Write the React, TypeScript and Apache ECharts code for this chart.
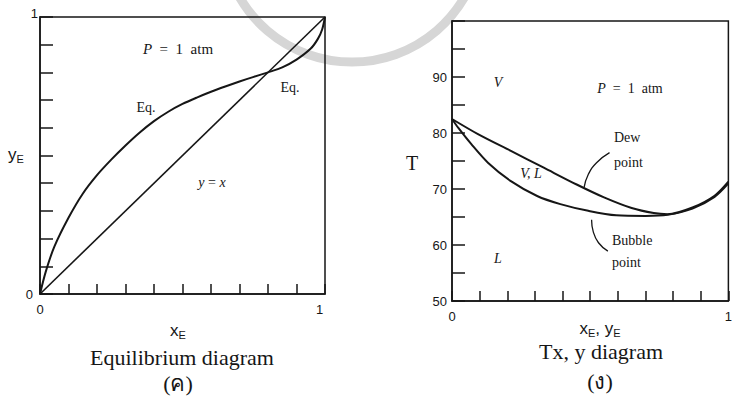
import React, { useEffect, useRef } from "react";
import * as echarts from "echarts";

// Equilibrium curve, y_E against x_E (P = 1 atm)
const eqX = [0, 0.02, 0.05, 0.1, 0.15, 0.2, 0.25, 0.3, 0.35, 0.4, 0.45, 0.5, 0.55, 0.6, 0.65, 0.7, 0.75, 0.8, 0.85, 0.9, 0.95, 0.975, 0.99, 1];
const eqY = [0, 0.08, 0.17, 0.275, 0.362, 0.429, 0.485, 0.536, 0.583, 0.624, 0.658, 0.686, 0.709, 0.73, 0.749, 0.767, 0.784, 0.8, 0.818, 0.846, 0.886, 0.921, 0.955, 1];

// Bubble-point (liquid) curve: T against x_E
const bubbleX = [0, 0.023, 0.07, 0.13, 0.213, 0.308, 0.392, 0.493, 0.594, 0.7, 0.78, 0.87, 0.95, 1];
const bubbleT = [82.5, 80.9, 78.0, 74.7, 71.4, 68.75, 67.3, 66.1, 65.3, 65.2, 65.4, 66.5, 68.6, 71.0];

// Dew-point (vapour) curve: T against y_E
const dewX = [0, 0.094, 0.213, 0.332, 0.451, 0.55, 0.65, 0.73, 0.78, 0.87, 0.95, 1];
const dewT = [82.5, 79.8, 76.8, 73.8, 70.8, 68.5, 66.6, 65.7, 65.5, 66.7, 68.8, 71.3];

// Callout leaders for the "Dew point" and "Bubble point" notes
const dewLeaderX = [0.57, 0.523, 0.493, 0.478];
const dewLeaderT = [76.5, 74.7, 72.6, 70.3];
const bubbleLeaderX = [0.505, 0.511, 0.53, 0.564];
const bubbleLeaderT = [64.5, 62.4, 60.4, 58.9];

// Tick labels
const fracLabels = ["0", "1"];
const tempLabels = [50, 60, 70, 80, 90];

const INK = "#161616";
const SERIF = "Liberation Serif";
const SANS = "Liberation Sans";

const pairs = (xs: number[], ys: number[]) => xs.map((x, i) => [x, ys[i]]);
const near = (a: number, b: number) => Math.abs(a - b) < 1e-6;

const fracFormatter = (axis: "x" | "y") => (v: number) => {
  if (near(v, 0)) return axis === "y" ? "{z|" + fracLabels[0] + "}" : fracLabels[0];
  if (near(v, 1)) return "{o|" + fracLabels[1] + "}";
  return "";
};

const tickStyle = (len: number) => ({
  show: true,
  inside: true,
  length: len,
  lineStyle: { color: INK, width: 1.5 },
});

const lineStyleAxis = { show: true, lineStyle: { color: INK, width: 1.5 } };

const text = (
  x: number,
  y: number,
  t: string,
  font: string,
  align: string = "center",
  rich?: any,
  lineHeight?: number
) => ({
  type: "text",
  x,
  y,
  z: 10,
  style: {
    text: t,
    font,
    fill: INK,
    align,
    verticalAlign: "middle",
    rich,
    lineHeight,
  },
});

export default function App() {
  const ref = useRef<HTMLDivElement>(null);

  useEffect(() => {
    if (!ref.current) return;
    const chart = echarts.init(ref.current, undefined, { renderer: "svg" });

    const subRich = (big: number, small: number) => ({
      a: { font: `${big}px ${SANS}`, color: INK },
      b: { font: `${small}px ${SANS}`, color: INK, padding: [9, 0, 0, 0] },
      c: { font: `${big}px ${SANS}`, color: INK },
    });

    const italicRich = (size: number) => ({
      i: { font: `italic ${size}px ${SERIF}`, color: INK },
      n: { font: `${size}px ${SERIF}`, color: INK },
    });

    const curve = (xi: number, xs: number[], ys: number[], width: number, smooth: number) => ({
      type: "line",
      xAxisIndex: xi,
      yAxisIndex: xi,
      data: pairs(xs, ys),
      smooth,
      showSymbol: false,
      lineStyle: { color: INK, width },
    });

    chart.setOption({
      animation: false,
      backgroundColor: "#ffffff",
      grid: [
        { left: 40, top: 17, width: 285, height: 277, show: true, borderColor: INK, borderWidth: 1.5 },
        { left: 452, top: 21, width: 281, height: 280, show: true, borderColor: INK, borderWidth: 1.5 },
      ],
      xAxis: [
        {
          type: "value",
          gridIndex: 0,
          min: 0,
          max: 1,
          interval: 0.1,
          axisLine: lineStyleAxis,
          axisTick: tickStyle(10),
          splitLine: { show: false },
          axisLabel: {
            margin: 9,
            color: INK,
            fontFamily: SANS,
            fontSize: 13,
            formatter: fracFormatter("x"),
            rich: { o: { fontFamily: SANS, fontSize: 13, color: INK, padding: [0, 11, 0, 0] } },
          },
        },
        {
          type: "value",
          gridIndex: 1,
          min: 0,
          max: 1,
          interval: 0.1,
          axisLine: lineStyleAxis,
          axisTick: tickStyle(10),
          splitLine: { show: false },
          axisLabel: {
            margin: 9,
            color: INK,
            fontFamily: SANS,
            fontSize: 13,
            formatter: fracFormatter("x"),
            rich: { o: { fontFamily: SANS, fontSize: 13, color: INK } },
          },
        },
      ],
      yAxis: [
        {
          type: "value",
          gridIndex: 0,
          min: 0,
          max: 1,
          interval: 0.1,
          axisLine: lineStyleAxis,
          axisTick: tickStyle(13),
          splitLine: { show: false },
          axisLabel: {
            margin: 2,
            color: INK,
            fontFamily: SANS,
            fontSize: 13,
            formatter: fracFormatter("y"),
            rich: {
              z: { fontFamily: SANS, fontSize: 13, color: INK, padding: [0, 5, 0, 0] },
              o: { fontFamily: SANS, fontSize: 13, color: INK, padding: [0, 0, 8, 0] },
            },
          },
        },
        {
          type: "value",
          gridIndex: 1,
          min: 50,
          max: 100,
          interval: 5,
          axisLine: lineStyleAxis,
          axisTick: tickStyle(13),
          splitLine: { show: false },
          axisLabel: {
            margin: 5,
            color: INK,
            fontFamily: SANS,
            fontSize: 13,
            formatter: (v: number) => (tempLabels.includes(v) ? String(v) : ""),
          },
        },
      ],
      series: [
        curve(0, eqX, eqY, 2, 0.3),
        curve(0, [0, 1], [0, 1], 1.6, 0),
        curve(1, dewX, dewT, 2, 0.3),
        curve(1, bubbleX, bubbleT, 2, 0.3),
        curve(1, dewLeaderX, dewLeaderT, 1.3, 0.5),
        curve(1, bubbleLeaderX, bubbleLeaderT, 1.3, 0.5),
      ],
      graphic: [
        // faint seal ring printed behind the figure
        {
          type: "arc",
          z: -1,
          shape: { cx: 352, cy: -68, r: 130, startAngle: 0.15, endAngle: Math.PI - 0.15 },
          style: { stroke: "#d6d6d6", lineWidth: 9, fill: "none" },
        },
        // left panel
        text(178, 49, "{i|P}{n|  =  1  atm}", `15px ${SERIF}`, "center", italicRich(15)),
        text(146, 107, "Eq.", `14px ${SERIF}`),
        text(290, 87, "Eq.", `14px ${SERIF}`),
        text(212, 182, "{i|y}{n| = }{i|x}", `14px ${SERIF}`, "center", italicRich(14)),
        text(16, 154, "{a|y}{b|E}", `16px ${SANS}`, "center", subRich(17, 11)),
        text(178, 330, "{a|x}{b|E}", `16px ${SANS}`, "center", subRich(17, 11)),
        text(182, 357, "Equilibrium diagram", `22px ${SERIF}`),
        text(178, 383, "(ค)", `22px ${SERIF}`),
        // right panel
        text(498, 82, "{i|V}", `14px ${SERIF}`, "center", italicRich(14)),
        text(630, 88, "{i|P}{n|  =  1  atm}", `14px ${SERIF}`, "center", italicRich(14)),
        text(614, 150, "Dew\npoint", `14px ${SERIF}`, "left", undefined, 25),
        text(531, 173, "{i|V, L}", `14px ${SERIF}`, "center", italicRich(14)),
        text(612, 251, "Bubble\npoint", `14px ${SERIF}`, "left", undefined, 22),
        text(498, 258, "{i|L}", `14px ${SERIF}`, "center", italicRich(14)),
        text(412, 163, "T", `20px ${SERIF}`),
        text(600, 328, "{a|x}{b|E}{c|, y}{b|E}", `16px ${SANS}`, "center", subRich(17, 11)),
        text(601, 351, "Tx, y diagram", `22px ${SERIF}`),
        text(600, 381, "(ง)", `22px ${SERIF}`),
      ],
    });

    return () => chart.dispose();
  }, []);

  return (
    <div
      ref={ref}
      style={{ position: "fixed", left: 0, top: 0, width: 735, height: 409, background: "#fff" }}
    />
  );
}
